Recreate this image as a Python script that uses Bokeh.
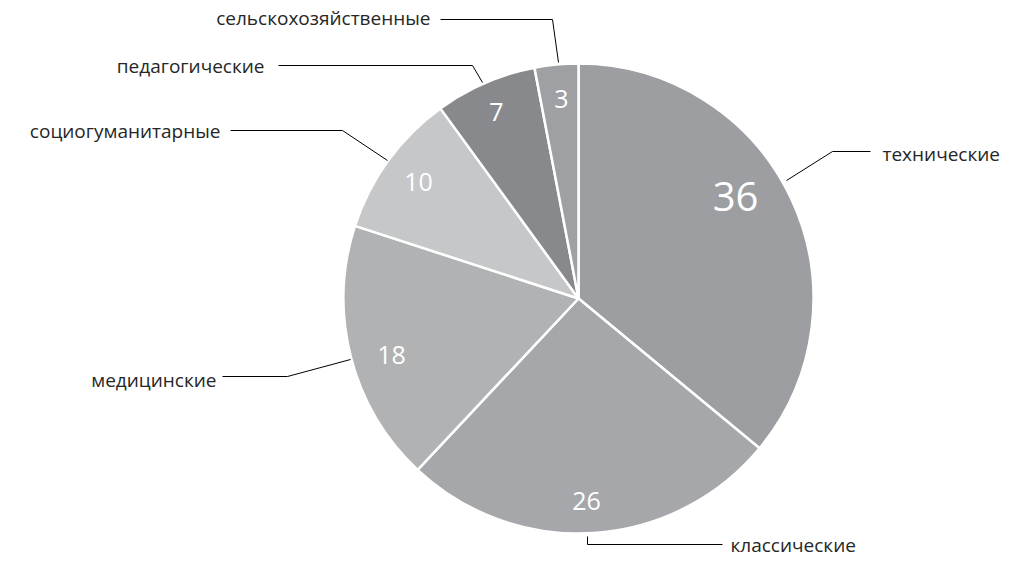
import math
from bokeh.plotting import figure
from bokeh.models import Range1d, ColumnDataSource
from bokeh.core.properties import value
from bokeh.embed import file_html
from bokeh.resources import INLINE

# ---- data ----
categories = ["технические", "классические", "медицинские",
              "социогуманитарные", "педагогические", "сельскохозяйственные"]
values = [36, 26, 18, 10, 7, 3]
colors = ["#9d9ea1", "#a5a7aa", "#b1b2b4", "#c6c7c9", "#88898c", "#9fa0a3"]

# ---- layout (reference image pixel coords) ----
W, H = 1008, 560
DY = -5
CX, CY, R = 578, 303, 235
num_pos = [(735, 201), (586, 505), (391, 359), (418, 186), (496, 116), (561, 103)]
num_size = ["40px", "25px", "25px", "25px", "25px", "25px"]
lab_pos = [(882, 158, "left"), (730, 549, "left"), (216, 384, "right"),
           (220, 135, "right"), (264, 70, "right"), (430, 22, "right")]
leaders = [
    [(870, 156), (832, 156), (786, 185)],
    [(587, 541), (587, 549), (722, 549)],
    [(222, 381), (287, 381), (350, 364)],
    [(230, 135), (342, 135), (387, 165)],
    [(278, 70), (472, 70), (482, 87)],
    [(440, 24), (552, 24), (558, 67)],
]

def Y(y):
    return H - (y + DY)

p = figure(width=W, height=H, output_backend="svg", toolbar_location=None,
           x_range=Range1d(0, W), y_range=Range1d(0, H),
           min_border=0)
p.axis.visible = False
p.grid.visible = False
p.outline_line_color = None

total = float(sum(values))
starts, ends = [], []
cum = 0.0
for v in values:
    starts.append(math.pi / 2 - 2 * math.pi * cum / total)
    cum += v
    ends.append(math.pi / 2 - 2 * math.pi * cum / total)

src = ColumnDataSource(dict(start=starts, end=ends, color=colors,
                            cat=categories, val=values))
p.wedge(x=CX, y=Y(CY), radius=R, start_angle="start", end_angle="end",
        direction="clock", fill_color="color", line_color="white",
        line_width=2.5, source=src)

for pts in leaders:
    p.line([a for a, b in pts], [Y(b) for a, b in pts], line_color="#000000",
           line_width=1)

for (x, y), v, fs in zip(num_pos, values, num_size):
    p.text(x=[x], y=[Y(y)], text=[str(v)], text_color="white",
           text_font=value("Open Sans"), text_font_size=fs,
           text_align="center", text_baseline="middle")

for (x, y, al), c in zip(lab_pos, categories):
    p.text(x=[x], y=[Y(y)], text=[c], text_color="#262626",
           text_font=value("Open Sans"), text_font_size="19px",
           text_align=al, text_baseline="middle")

open("out.html", "w").write(file_html(p, INLINE))
